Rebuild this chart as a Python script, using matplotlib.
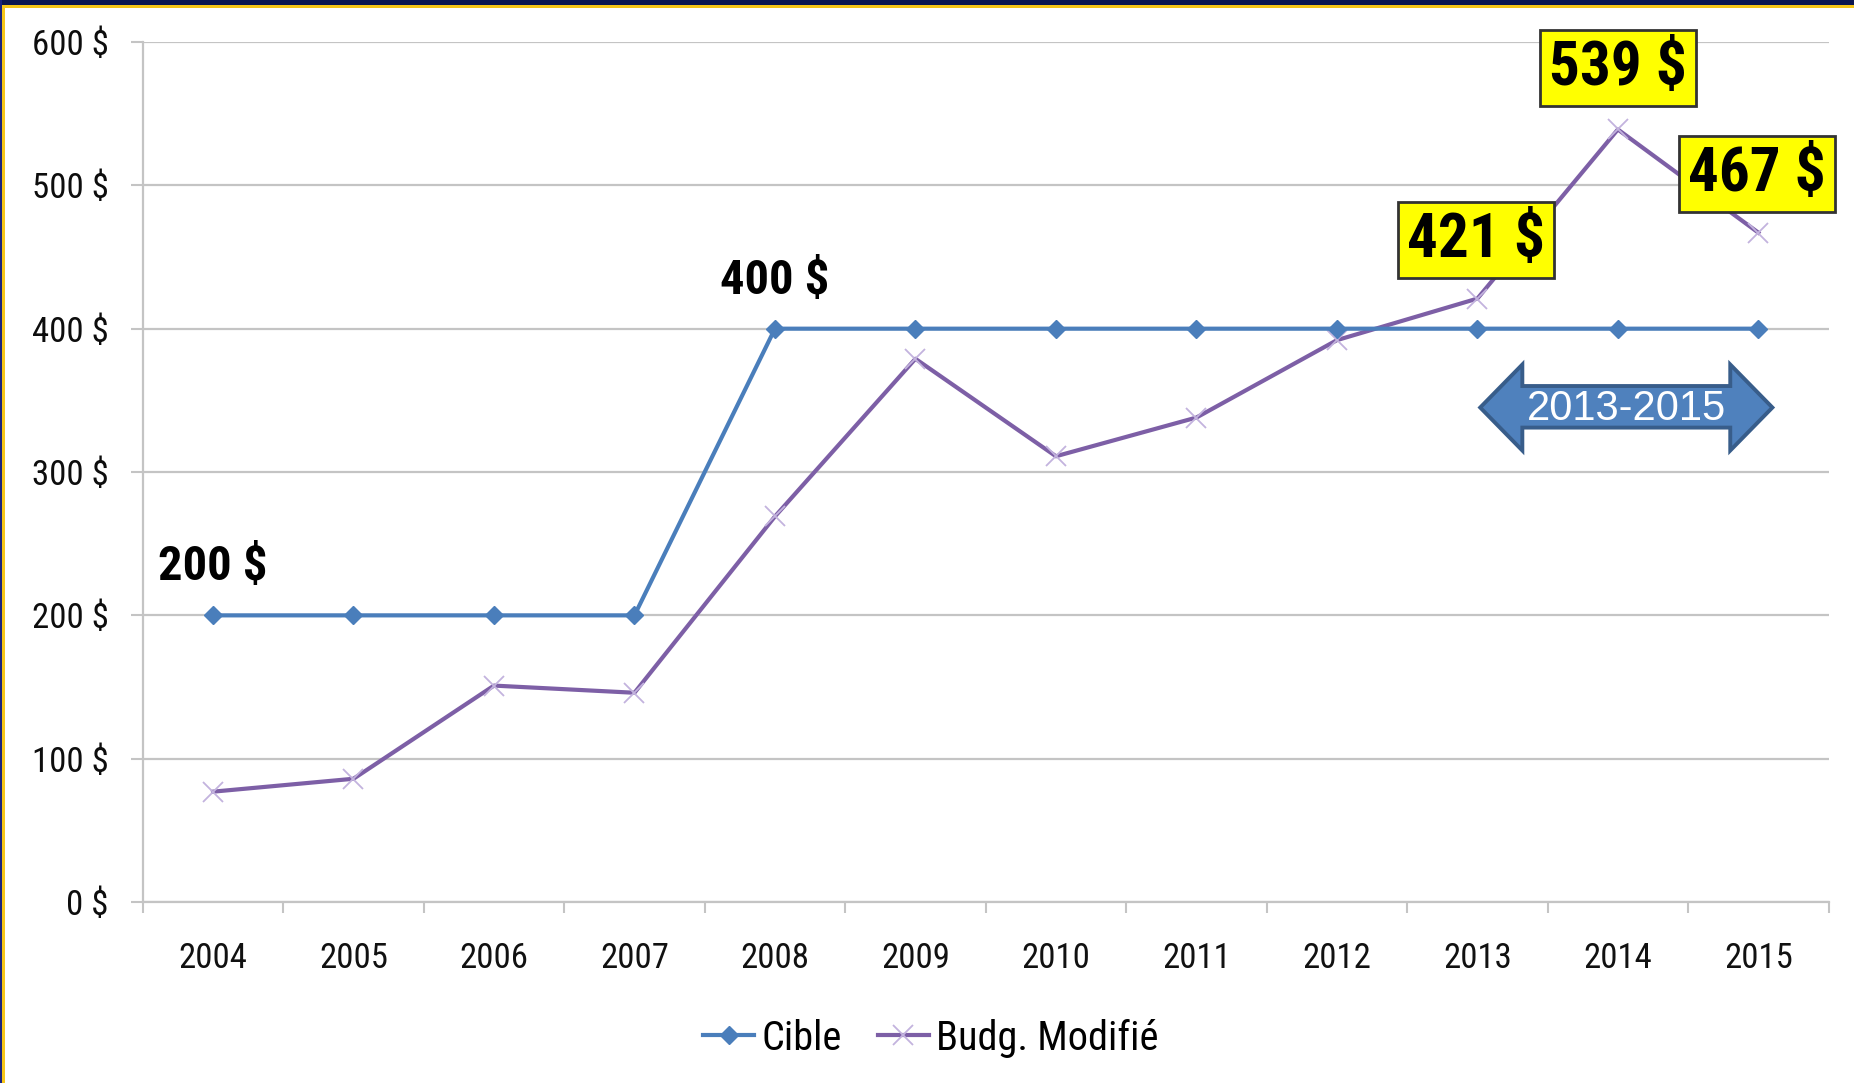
import matplotlib
matplotlib.use("Agg")
import matplotlib.pyplot as plt
from matplotlib.patches import Polygon, Rectangle
from matplotlib.ticker import FixedLocator

years = ["2004", "2005", "2006", "2007", "2008", "2009",
         "2010", "2011", "2012", "2013", "2014", "2015"]
cible = [200, 200, 200, 200, 400, 400, 400, 400, 400, 400, 400, 400]
budget = [77, 86, 151, 146, 269, 379, 311, 338, 392, 421, 539, 467]
y_ticks = [0, 100, 200, 300, 400, 500, 600]
period_label = "2013-2015"

narrow = ["Roboto Condensed", "DejaVu Sans"]
regular = ["Liberation Sans", "DejaVu Sans"]

blue = "#4A7EBB"
purple = "#7D5FA6"
grid_gray = "#C4C4C4"

fig = plt.figure(figsize=(18.54, 10.83), dpi=100)
ax = fig.add_axes([0.077, 0.1671, 0.9093, 0.7941])

x = list(range(len(years)))
ax.plot(x, cible, color=blue, lw=3.0, marker="D", ms=9,
        mfc=blue, mec=blue, label="Cible", zorder=4)
ax.plot(x, budget, color=purple, lw=3.0, marker="x", ms=14,
        mec="#C3B3DE", mew=1.3, label="Budg. Modifié", zorder=3)

ax.set_xlim(-0.5, len(years) - 0.5)
ax.set_ylim(0, 600)
ax.set_yticks(y_ticks)
ax.set_yticklabels([f"{v} $" for v in y_ticks], family=narrow,
                   fontsize=25, color="#0d0d0d")
ax.set_xticks(x)
ax.set_xticklabels(years, family=narrow, fontsize=25, color="#111111")
ax.xaxis.set_minor_locator(FixedLocator([i - 0.5 for i in range(len(years) + 1)]))
ax.tick_params(axis="x", which="major", length=0, pad=29)
ax.tick_params(axis="x", which="minor", length=8, width=1.5, color=grid_gray)
ax.tick_params(axis="y", length=8.5, width=1.5, color=grid_gray, pad=16)

ax.grid(axis="y", color=grid_gray, lw=1.6)
ax.set_axisbelow(True)
for side in ["top", "right"]:
    ax.spines[side].set_visible(False)
for side in ["left", "bottom"]:
    ax.spines[side].set_color(grid_gray)
    ax.spines[side].set_linewidth(1.6)

# step labels on the target line
ax.text(0, 234, f"{cible[0]} $", family=narrow, fontsize=35,
        fontweight="bold", ha="center", va="center", color="black")
ax.text(4, 433, f"{cible[4]} $", family=narrow, fontsize=35,
        fontweight="bold", ha="center", va="center", color="black")

# highlighted values for the last three years
box_pos = {9: (8.99, 462), 10: (10.0, 582), 11: (10.99, 508)}
for i, (bx, by) in box_pos.items():
    ax.text(bx, by, f"{budget[i]} $", family=narrow, fontsize=44,
            fontweight="bold", ha="center", va="center", color="black",
            zorder=6,
            bbox=dict(boxstyle="square,pad=0.15", fc="#FFFF00",
                      ec="#333333", lw=2))

# double-headed arrow marking the period
arrow = [(9.02, 345), (9.32, 375), (9.32, 360), (10.80, 360), (10.80, 375),
         (11.10, 345), (10.80, 315), (10.80, 331), (9.32, 331), (9.32, 315)]
ax.add_patch(Polygon(arrow, closed=True, fc="#4F81BD", ec="#385D8A",
                     lw=2.8, zorder=5))
ax.text(10.06, 344, period_label, family=regular, fontsize=30,
        color="white", ha="center", va="center", zorder=6)

fig.legend(loc="center", bbox_to_anchor=(0.502, 0.0415), ncol=2,
           frameon=False, prop={"family": narrow, "size": 29},
           handlelength=1.26, handletextpad=0.18, columnspacing=0.9)

# frame strips along the top and left edges
fig.patches.append(Rectangle((0, 1 - 5 / 1083), 1, 5 / 1083,
                             transform=fig.transFigure, fc="#0B1650", ec="none"))
fig.patches.append(Rectangle((0, 1 - 8 / 1083), 1, 3 / 1083,
                             transform=fig.transFigure, fc="#F5C518", ec="none"))
fig.patches.append(Rectangle((0, 0), 2 / 1854, 1,
                             transform=fig.transFigure, fc="#1A237E", ec="none"))
fig.patches.append(Rectangle((2 / 1854, 0), 3 / 1854, 1 - 5 / 1083,
                             transform=fig.transFigure, fc="#F5C518", ec="none"))

fig.savefig("out.png", dpi=100)
plt.close(fig)
